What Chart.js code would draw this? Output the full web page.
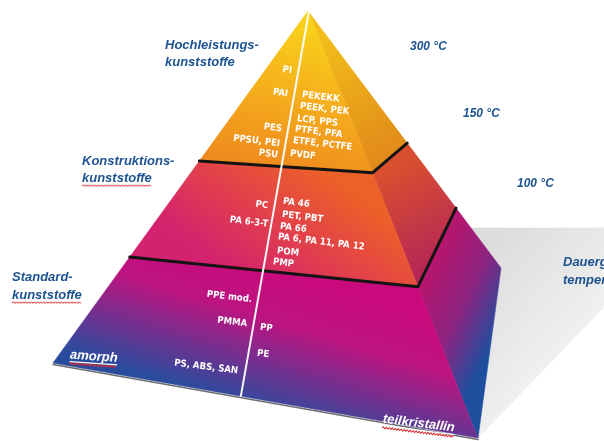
<!DOCTYPE html>
<html><head><meta charset="utf-8">
<script src="https://cdn.jsdelivr.net/npm/chart.js@4.4.0/dist/chart.umd.min.js"></script>
<style>html,body{margin:0;padding:0;background:#fff;overflow:hidden}#wrap{width:604px;height:441px;position:relative}</style>
</head><body><div id="wrap"><canvas id="c" width="604" height="441"></canvas></div>
<script>
// ---------------- DATA ----------------
const tierNames = [['Hochleistungs-','kunststoffe'],['Konstruktions-','kunststoffe'],['Standard-','kunststoffe']];
const tempLabels = ['300 °C','150 °C','100 °C'];
const axisTitle = ['Dauergebrauchs-','temperatur'];
const structureLabels = ['amorph','teilkristallin'];
const amorphTier1 = ['PI','PAI','PES','PPSU, PEI','PSU'];
const crystTier1  = ['PEKEKK','PEEK, PEK','LCP, PPS','PTFE, PFA','ETFE, PCTFE','PVDF'];
const amorphTier2 = ['PC','PA 6-3-T'];
const crystTier2  = ['PA 46','PET, PBT','PA 66','PA 6, PA 11, PA 12','POM','PMP'];
const amorphTier3 = ['PPE mod.','PMMA','PS, ABS, SAN'];
const crystTier3  = ['PP','PE'];

// ---------------- LAYOUT (positions / styles) ----------------
const APEX=[308,11], BASE_L=[53,363], BASE_F=[478,438], BASE_B=[501,268];
const T_LEFT=[0.426,0.699], T_FRONT=[0.379,0.646], T_BACK=[0.514,0.767];
const CENTER_TOP=[309,11], CENTER_BASE_T=0.442;
const amorphPos = [[292,70],[288,93],[282,128],[280,141],[278,154], [268,205],[268,222], [252,297],[247,322],[238,367]];
const crystPos  = [[302,97],[300,109],[297,121],[295,132],[293,144],[290,155], [283,203],[282,217],[280,228],[278,242],[277,252],[273,263], [260,328],[257,354]];
const tierNamePos = [[165,45,62],[82,161,178],[12,277,295]];
const tierNameWavy = [false,true,true];
const tempPos = [[410,47],[463,114],[517,184]];
const axisTitlePos = [563,262,280];
const structPos = [[70,355,0.07],[383,419,0.125]];
const BLUE = '#1d5390';
const WHITE_FONT = 'bold 9.5px "DejaVu Sans Condensed", "DejaVu Sans", sans-serif';
const BLUE_FONT = 'italic bold 13px "Liberation Sans", Arial, sans-serif';
const TEMP_FONT = 'italic bold 12px "Liberation Sans", Arial, sans-serif';
const LABEL_ANGLE = 0.12;

const lerp=(a,b,t)=>[a[0]+(b[0]-a[0])*t, a[1]+(b[1]-a[1])*t];
const L = T_LEFT.map(t=>lerp(APEX,BASE_L,t));
const F = T_FRONT.map(t=>lerp(APEX,BASE_F,t));
const B = T_BACK.map(t=>lerp(APEX,BASE_B,t));
const CB = lerp(BASE_L,BASE_F,CENTER_BASE_T);
const pt = p=>({x:p[0],y:p[1]});

const tierLine1 = [L[0],F[0],B[0]].map(pt);
const tierLine2 = [L[1],F[1],B[1]].map(pt);
const centerLine = [CENTER_TOP,CB].map(pt);
const baseEdge = [BASE_L,BASE_F].map(p=>({x:p[0],y:p[1]+1.5}));

function poly(ctx, X, Y, pts){ctx.beginPath();pts.forEach((p,i)=>{const x=X(p[0]),y=Y(p[1]); i?ctx.lineTo(x,y):ctx.moveTo(x,y);});ctx.closePath();}
function grad(ctx,X,Y,a,b,stops){const g=ctx.createLinearGradient(X(a[0]),Y(a[1]),X(b[0]),Y(b[1]));stops.forEach(s=>g.addColorStop(s[0],s[1]));return g;}
function fillPoly(ctx,X,Y,pts,fill){poly(ctx,X,Y,pts);ctx.fillStyle=fill;ctx.fill();ctx.strokeStyle=fill;ctx.lineWidth=0.6;ctx.stroke();}

function wavy(ctx,x0,x1,y){ctx.save();ctx.strokeStyle='#d9262a';ctx.lineWidth=1;ctx.beginPath();let up=true;ctx.moveTo(x0,y);for(let x=x0+1.5;x<=x1;x+=1.5){ctx.lineTo(x,up?y-1.2:y+0.4);up=!up;}ctx.stroke();ctx.restore();}

const pyramidPlugin = {
  id:'pyramid',
  beforeDatasetsDraw(chart){
    const ctx=chart.ctx, X=v=>chart.scales.x.getPixelForValue(v), Y=v=>chart.scales.y.getPixelForValue(v);
    ctx.save();
    // shadow
    const shadowTop = lerp(APEX,BASE_B,(228-APEX[1])/(BASE_B[1]-APEX[1]));
    fillPoly(ctx,X,Y,[shadowTop,[604,228],[604,307],BASE_F,BASE_B],
      grad(ctx,X,Y,[480,250],[600,360],[[0,'#dcdcdc'],[1,'#f5f5f5']]));
    // right faces
    fillPoly(ctx,X,Y,[APEX,F[0],B[0]], grad(ctx,X,Y,[330,30],[400,165],[[0,'#f2be1a'],[1,'#e0861a']]));
    fillPoly(ctx,X,Y,[F[0],B[0],B[1],F[1]], grad(ctx,X,Y,[385,170],[445,285],[[0,'#d8502f'],[1,'#b01e5e']]));
    fillPoly(ctx,X,Y,[F[1],B[1],BASE_B,BASE_F], grad(ctx,X,Y,[425,280],[505,320],[[0,'#b5166f'],[0.5,'#8e2380'],[1,'#1e4f9f']]));
    // front faces
    fillPoly(ctx,X,Y,[APEX,L[0],F[0]], grad(ctx,X,Y,[308,11],[270,170],[[0,'#f8d81b'],[0.45,'#f6b41c'],[1,'#ef8a1e']]));
    fillPoly(ctx,X,Y,[L[0],F[0],F[1],L[1]], grad(ctx,X,Y,[320,168],[240,280],[[0,'#ec6127'],[0.5,'#e2404b'],[1,'#d3226f']]));
    fillPoly(ctx,X,Y,[L[1],F[1],BASE_F,BASE_L], grad(ctx,X,Y,[300,280],[260,410],[[0,'#c80a7c'],[0.35,'#bc1480'],[1,'#2a4c9e']]));
    ctx.restore();
  },
  afterDatasetsDraw(chart){
    const ctx=chart.ctx, X=v=>chart.scales.x.getPixelForValue(v), Y=v=>chart.scales.y.getPixelForValue(v);
    ctx.save();
    ctx.textBaseline='middle';
    // white polymer labels
    const drawRot=(text,x,y,align)=>{
      ctx.font=WHITE_FONT; const w=ctx.measureText(text).width;
      const dy=(w/2)*Math.sin(LABEL_ANGLE)*(align==='right'?1:-1);
      ctx.save();ctx.translate(X(x),Y(y)+dy);ctx.rotate(LABEL_ANGLE);ctx.textAlign=align;ctx.fillStyle='#ffffff';ctx.fillText(text,0,0);ctx.restore();
    };
    const amorphAll=[...amorphTier1,...amorphTier2,...amorphTier3];
    const crystAll=[...crystTier1,...crystTier2,...crystTier3];
    amorphAll.forEach((t,i)=>drawRot(t,amorphPos[i][0],amorphPos[i][1],'right'));
    crystAll.forEach((t,i)=>drawRot(t,crystPos[i][0],crystPos[i][1],'left'));
    // structure labels
    structureLabels.forEach((t,i)=>{
      const [x,y,a]=structPos[i];
      ctx.save();ctx.translate(X(x),Y(y));ctx.rotate(a);
      ctx.font='italic bold 13px "Liberation Sans", Arial, sans-serif';ctx.textAlign='left';ctx.fillStyle='#fff';
      ctx.fillText(t,0,0);const w=ctx.measureText(t).width;
      ctx.fillRect(0,6,w,1.2);wavy(ctx,0,w,9);
      ctx.restore();
    });
    // blue tier names
    ctx.fillStyle=BLUE;ctx.textAlign='left';ctx.font=BLUE_FONT;
    tierNames.forEach((lines,i)=>{
      const [x,y1,y2]=tierNamePos[i];
      ctx.fillText(lines[0],X(x),Y(y1));ctx.fillText(lines[1],X(x),Y(y2));
      if(tierNameWavy[i]){const w=ctx.measureText(lines[1]).width;wavy(ctx,X(x),X(x)+w,Y(y2)+8);}
    });
    // temperatures
    ctx.font=TEMP_FONT;ctx.fillStyle=BLUE;
    tempLabels.forEach((t,i)=>ctx.fillText(t,X(tempPos[i][0]),Y(tempPos[i][1])));
    ctx.font=BLUE_FONT;
    ctx.fillText(axisTitle[0],X(axisTitlePos[0]),Y(axisTitlePos[1]));
    ctx.fillText(axisTitle[1],X(axisTitlePos[0]),Y(axisTitlePos[2]));
    ctx.restore();
  }
};

const lineDs=(data,color,width)=>({data,showLine:true,borderColor:color,borderWidth:width,pointRadius:0,fill:false,tension:0,borderCapStyle:'round',borderJoinStyle:'round'});

new Chart(document.getElementById('c'),{
  type:'scatter',
  data:{datasets:[
    lineDs(baseEdge,'rgba(60,60,70,0.75)',1.5),
    lineDs(centerLine,'rgba(255,255,255,0.95)',2),
    lineDs(tierLine1,'#141414',3),
    lineDs(tierLine2,'#141414',3)
  ]},
  options:{
    responsive:false,animation:false,devicePixelRatio:1,events:[],
    layout:{padding:0},
    plugins:{legend:{display:false},tooltip:{enabled:false}},
    scales:{
      x:{type:'linear',min:0,max:604,display:false},
      y:{type:'linear',min:0,max:441,reverse:true,display:false}
    }
  },
  plugins:[pyramidPlugin]
});
</script></body></html>
